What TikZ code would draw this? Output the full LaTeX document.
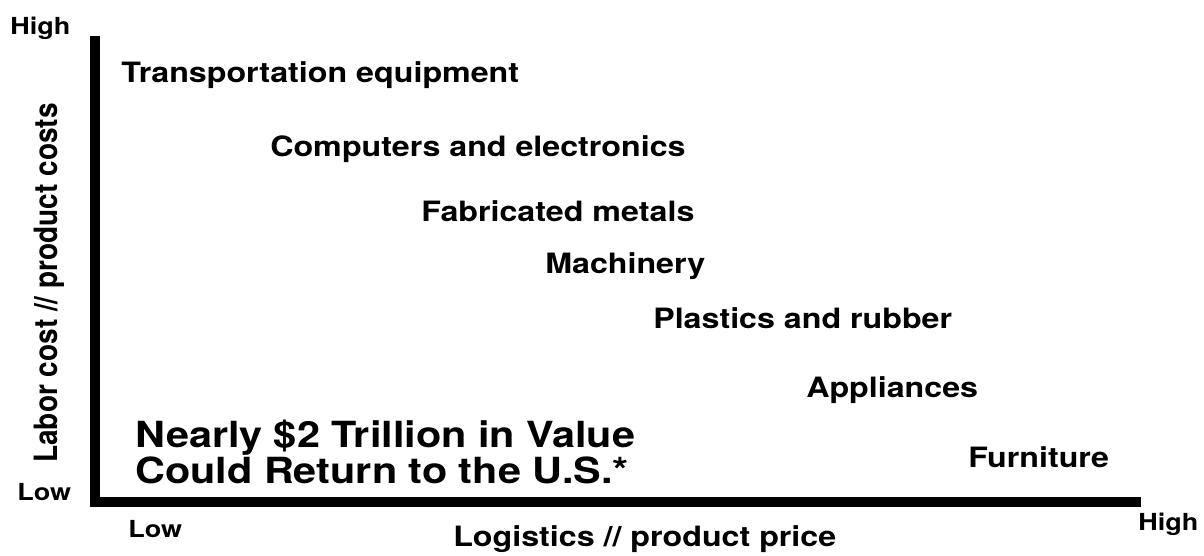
\documentclass[tikz,border=0pt]{standalone}
\usepackage{fontspec}
\setmainfont{TeX Gyre Heros}

\begin{document}
\begin{tikzpicture}[x=0.75pt, y=-0.75pt,
  sector/.style={anchor=base west, inner sep=0pt, xscale=1.15,
    font=\fontsize{21}{25}\selectfont\bfseries},
  level/.style={anchor=base west, inner sep=0pt, xscale=1.15,
    font=\fontsize{17.6}{20}\selectfont\bfseries}]
  \useasboundingbox (0,0) rectangle (1204,556);

  % axes
  \coordinate (ytop) at (95,36);
  \coordinate (origin) at (95,502);
  \coordinate (xend) at (1141,502);
  \draw[line width=7.5pt, miter limit=4] (ytop) -- (origin) -- (xend);

  \node[level] (yhigh) at (10,35) {High};
  \node[level] (ylow) at (17,500) {Low};
  \node[level] (xlow) at (128,537) {Low};
  \node[level] (xhigh) at (1138,530) {High};

  \node[sector] (xlabel) at (453,546) {Logistics // product price};
  \node[anchor=base, inner sep=0pt, xscale=1.15, rotate=90,
    font=\fontsize{21}{25}\selectfont\bfseries] (ylabel) at (57,283) {Labor cost // product costs};

  % industries
  \node[sector] (transport) at (121,83) {Transportation equipment};
  \node[sector] (computers) at (270,157) {Computers and electronics};
  \node[sector] (metals) at (421,222) {Fabricated metals};
  \node[sector] (machinery) at (545,274) {Machinery};
  \node[sector] (plastics) at (653,328) {Plastics and rubber};
  \node[sector] (appliances) at (806,397) {Appliances};
  \node[sector] (furniture) at (968,467) {Furniture};

  \node[anchor=base west, inner sep=0pt, xscale=1.15, align=left,
    font=\fontsize{27}{27}\selectfont\bfseries] (value) at (135,483)
    {Nearly \$2 Trillion in Value\\Could Return to the U.S.*};
\end{tikzpicture}
\end{document}
